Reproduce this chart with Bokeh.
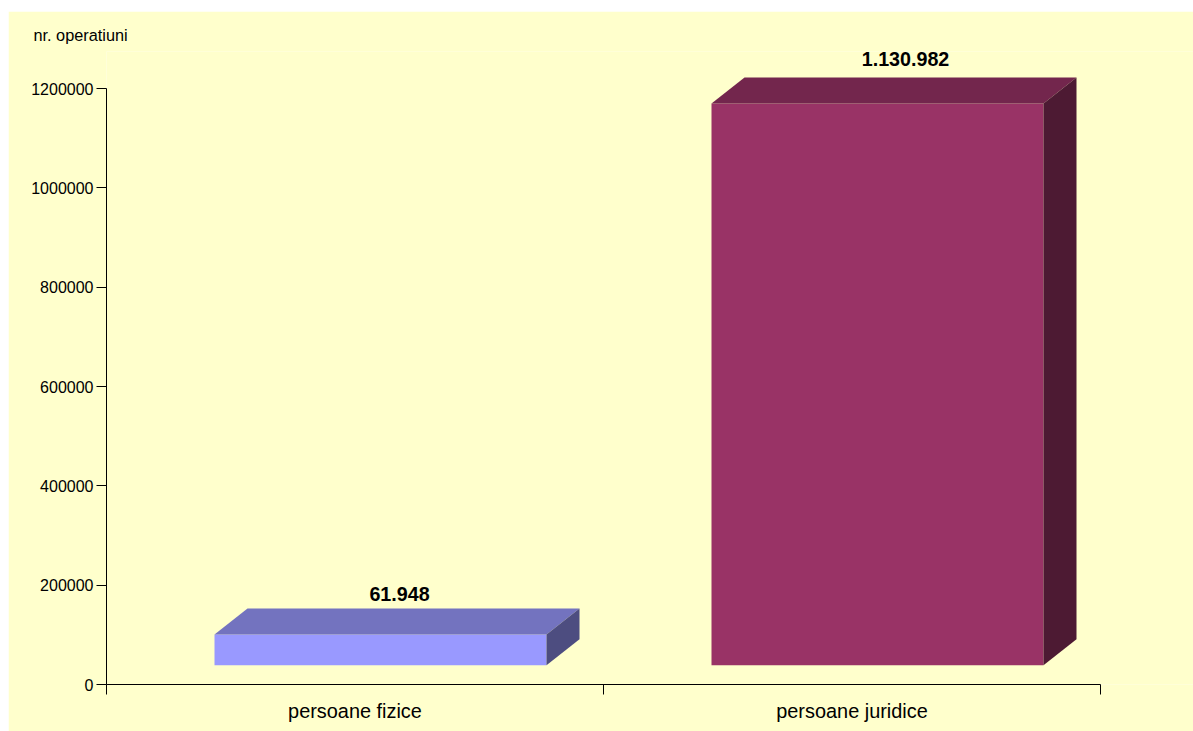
from bokeh.plotting import figure
from bokeh.models import (ColumnDataSource, FixedTicker, Range1d, LinearAxis, Title)
from bokeh.core.properties import value
from bokeh.embed import file_html
from bokeh.resources import INLINE

categories = ["persoane fizice", "persoane juridice"]
values = [61948, 1130982]
value_labels = ["61.948", "1.130.982"]
y_ticks = [0, 200000, 400000, 600000, 800000, 1000000, 1200000]
front_colors = ["#9999FF", "#993366"]
top_colors = ["#7373BF", "#73264D"]
side_colors = ["#4D4D80", "#4D1A33"]

BG = "#FFFFCC"
W, H = 1185, 720
LEFT, BOTTOM, TOP = 98, 47, 40
FRAME_W, FRAME_H = W - LEFT, H - BOTTOM - TOP
PX_X = 497.0            # px per category
PX_Y = 596.0 / 1200000  # px per operation
GAP = 108 / PX_X        # category edge to bar front
BAR_W = 332 / PX_X
DX, DY = 33 / PX_X, 26 / PX_Y
BASE = 19.3 / PX_Y      # front of bars stands this high over the axis

p = figure(width=W, height=H, output_backend="svg", toolbar_location=None,
           x_range=Range1d(0, FRAME_W / PX_X), y_range=Range1d(0, FRAME_H / PX_Y),
           x_axis_type=None, y_axis_type=None,
           min_border_left=LEFT, min_border_right=0, min_border_top=TOP, min_border_bottom=BOTTOM,
           background_fill_color=BG, border_fill_color=BG, outline_line_color=None)
p.margin = (11, 0, 0, 8)
p.grid.visible = False

p.title = Title(text="nr. operatiuni", align="left", offset=25 - LEFT, standoff=15,
                text_font="Liberation Sans", text_font_size="16.3px", text_font_style="normal",
                text_color="#000000")

yaxis = LinearAxis(ticker=FixedTicker(ticks=y_ticks), bounds=(0, 1200000))
yaxis.major_label_text_font = "Liberation Sans"
yaxis.major_label_text_font_size = "16px"
yaxis.major_label_text_color = "#000000"
yaxis.major_tick_in = 0
yaxis.major_tick_out = 10
yaxis.minor_tick_in = 0
yaxis.minor_tick_out = 0
yaxis.major_label_standoff = 3
yaxis.axis_line_color = "#000000"
yaxis.major_tick_line_color = "#000000"
yaxis.formatter.use_scientific = False
p.add_layout(yaxis, "left")

tick_pos = [i + 0.5 for i in range(len(categories))]
xaxis = LinearAxis(ticker=FixedTicker(ticks=tick_pos, minor_ticks=list(range(len(categories) + 1))),
                   bounds=(0, len(categories)))
xaxis.major_label_overrides = {t: c for t, c in zip(tick_pos, categories)}
xaxis.major_label_text_font = "Liberation Sans"
xaxis.major_label_text_font_size = "19.9px"
xaxis.major_label_text_color = "#000000"
xaxis.major_tick_in = 0
xaxis.major_tick_out = 0
xaxis.minor_tick_in = 0
xaxis.minor_tick_out = 10
xaxis.major_label_standoff = 5
xaxis.axis_line_color = "#000000"
xaxis.minor_tick_line_color = "#000000"
p.add_layout(xaxis, "below")

fx, fy, tx, ty, sx, sy = [], [], [], [], [], []
lx, ly = [], []
for i, v in enumerate(values):
    x0, x1 = i + GAP, i + GAP + BAR_W
    y0, y1 = BASE, BASE + v
    fx.append([x0, x1, x1, x0]); fy.append([y0, y0, y1, y1])
    tx.append([x0, x1, x1 + DX, x0 + DX]); ty.append([y1, y1, y1 + DY, y1 + DY])
    sx.append([x1, x1 + DX, x1 + DX, x1]); sy.append([y0, y0 + DY, y1 + DY, y1])
    lx.append((x0 + x1) / 2)
    ly.append(y1 + DY)

p.patches(fx, fy, fill_color=front_colors, line_color=None)
p.patches(tx, ty, fill_color=top_colors, line_color=None)
p.patches(sx, sy, fill_color=side_colors, line_color=None)

src = ColumnDataSource(dict(x=lx, y=ly, t=value_labels, dx=[19, 28], dy=[-14, -18]))
p.text("x", "y", text="t", source=src, x_offset="dx", y_offset="dy",
       text_font=value("Liberation Sans"), text_font_style="bold", text_font_size="19.7px",
       text_color="#000000", text_align="center", text_baseline="middle")

open("out.html", "w").write(file_html(p, INLINE))
